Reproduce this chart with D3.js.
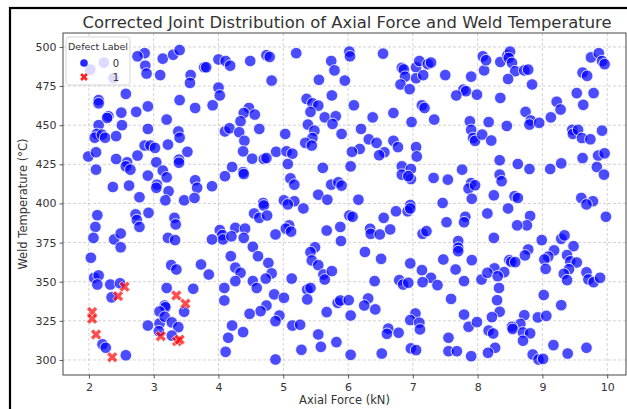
<!DOCTYPE html>
<html><head><meta charset="utf-8">
<script src="https://cdn.jsdelivr.net/npm/d3@7"></script>
<style>body{margin:0;background:#fff}svg{display:block;font-family:"DejaVu Sans",sans-serif}</style>
</head><body><svg id="c" width="627" height="409"></svg>
<script>
const title = "Corrected Joint Distribution of Axial Force and Weld Temperature";
const xLabel = "Axial Force (kN)";
const yLabel = "Weld Temperature (°C)";
const legendTitle = "Defect Label";
const labels = ["0", "1"];
const xTicks = [2,3,4,5,6,7,8,9,10];
const yTicks = [300,325,350,375,400,425,450,475,500];

// Defect 0 points: [axial force, weld temperature]
const defect0 = [
[2.86,496],[2.75,494],[2.23,490],[2.02,485.5],[2.38,480],[2.87,488],[2.89,483],[3.14,492.5],[3.30,495],[3.40,498],
[3.10,482],[3.57,482],[3.56,477],[3.78,487],[2.57,470],[2.15,466],[2.15,464],[2.91,462],[3.40,466],[3.64,461],
[2.30,455.7],[2.28,454.6],[2.50,458],[2.73,458.5],[3.20,453.6],[2.15,450],[2.51,450],[2.91,447.6],[2.12,444.4],[2.09,442],
[2.20,444],[2.25,442],[2.42,443],[3.38,446],[3.40,442],[2.86,437],[2.95,437],[3.02,435.5],[3.22,437.6],[3.52,433],
[1.99,430],[2.11,432.7],[2.42,428.4],[2.59,426.3],[2.57,423.7],[2.64,421.6],[2.75,430.6],[3.04,426.3],[3.39,428],[3.39,426],
[2.11,421.6],[3.14,421],[2.91,417.8],[3.20,416.7],[3.05,412],[3.04,410],[3.64,414.8],[3.67,410],[2.37,410.5],[2.62,411.4],
[3.23,407.8],[2.78,404],[3.18,402],[3.47,402],[3.63,403.5],
[3.81,487],[4.0,492],[4.11,491],[4.18,488],[4.49,491],[4.74,494.7],[4.79,493.6],[5.20,496],[4.82,478.5],[5.74,491],
[5.79,485],[5.55,479],[5.95,478.5],[4.0,474],[4.02,469],[3.91,462.7],[4.47,461],[4.39,457.8],[4.56,456.8],[4.34,452.5],
[5.36,466.8],[5.45,464],[5.54,462.5],[5.42,458.5],[5.75,469],[5.64,455],[5.81,455.7],[5.76,450.8],[5.38,450.4],[5.48,446.5],
[5.90,444.4],[5.45,441.8],[5.34,438.7],[5.44,437],[4.10,446],[4.17,448],[4.32,445.5],[4.63,447.6],[4.40,440],[5.03,444.4],
[4.38,433.3],[4.52,428.6],[4.70,428.4],[4.74,429],[4.89,433],[5.05,433.3],[5.14,431.8],[5.07,425.2],[4.21,423.3],[4.10,417.4],
[4.38,420],[4.39,418.8],[3.90,411],[5.11,416],[5.17,412],[5.61,422.7],[5.74,412],[5.85,413.5],[5.90,411.4],[5.54,405.6],
[5.68,402.4],[5.01,402],[5.17,401.4],[4.69,400.3],
[6.02,497],[6.03,494],[6.54,495.7],[6.83,486.6],[6.86,485.6],[6.88,481],[6.81,476],[6.95,473],[7.05,487],[7.10,491],
[7.05,480],[7.16,482],[7.23,489],[7.28,490],[7.50,482],[7.90,481],[8.08,494],[8.10,485],[7.78,472.7],[7.82,471.7],
[7.67,469],[7.99,469.5],[6.09,462.7],[6.38,455],[6.70,457.8],[7.14,462.7],[7.18,461],[6.98,452],[7.33,453.6],[6.20,447.6],
[6.32,441],[6.44,438.7],[6.70,440],[6.77,436],[7.05,436],[7.06,430],[6.56,432.7],[6.48,430.8],[6.18,434.8],[6.06,433],
[7.88,452.5],[7.90,447],[7.93,441.8],[7.96,440],[8.07,444],[6.04,423.7],[6.83,423.7],[6.83,418.4],[6.97,422],[6.97,415.6],
[6.93,417.4],[7.32,416.3],[7.54,415.2],[7.76,421.6],[7.90,413],[7.86,409.5],[7.96,411.6],[7.91,403],[6.16,402.4],[7.46,400.3],
[6.96,399],
[8.13,491.5],[8.35,490.4],[8.46,494.7],[8.50,497],[8.48,493],[8.53,489.8],[8.58,484.5],[8.47,479.5],[8.72,485],[8.78,485.5],
[8.84,476],[8.35,467.4],[8.74,458.5],[8.82,453],[8.80,450.4],[8.95,451.5],[8.45,449.5],[8.17,452],[8.21,440.2],[9.22,465],
[9.28,460],[9.13,455],[9.53,470.5],[9.63,463],[9.79,470.5],[9.62,483.6],[9.69,481.5],[9.75,493.3],[9.87,496],[9.92,491],
[9.96,489],[9.46,447],[9.47,444.4],[9.55,447],[9.61,441.8],[9.74,441],[9.92,446.5],[8.34,427.6],[8.62,425.2],[8.80,422],
[8.34,418.4],[8.37,414.2],[9.12,422],[9.29,425.6],[9.62,429],[9.86,430.6],[9.96,432],[9.84,423.3],[9.95,418.4],[8.25,405.2],
[8.57,404.6],[8.62,403.5],[9.60,403.5],[9.78,401.4],
[2.13,392.5],[2.10,385],[2.07,378],[2.39,377],[2.49,380.8],[2.49,372],[2.72,393],[2.74,389.4],[2.78,385],[2.92,394],
[3.32,390.8],[3.34,386.6],[3.22,378],[3.33,376.6],[2.03,365.3],[3.27,360.6],[3.35,357.8],[3.73,361],[2.08,352.5],[2.15,354],
[2.13,348.2],[2.33,348.2],[2.48,349],[2.35,340],[3.20,346],[3.61,345.5],[3.17,334.8],[3.18,333.7],[3.09,331],[3.47,330.8],
[3.09,323.3],[3.17,327.6],[3.28,324],[3.38,321],[2.91,322],[3.08,318.4],[3.28,315.6],[2.21,310],[2.26,307.8],[2.57,303],
[4.70,398.7],[5.07,399.4],[5.31,396.8],[4.55,393.6],[4.63,390.8],[4.75,392.3],[5.09,386],[5.04,383.9],[5.12,382],[4.88,380.2],
[4.26,384.4],[4.41,383.9],[4.02,383],[4.06,379.8],[4.07,377],[4.20,379],[3.90,377],[4.39,378],[5.67,382.7],[5.88,385],
[5.89,376],[4.53,372.3],[4.61,366.3],[4.19,366.3],[4.77,362],[4.82,355.3],[4.26,359],[4.34,355.7],[4.73,352],[4.53,350.4],
[4.59,346],[4.26,350.4],[4.09,346],[4.09,338],[3.85,354.6],[5.13,352],[5.49,372],[5.42,368.9],[5.44,363.6],[5.54,360.6],
[5.62,354.6],[5.64,351.4],[5.75,356.8],[5.37,345],[5.42,346],[5.37,338.7],[4.86,341.9],[5.01,339.7],[4.74,334.8],[4.65,331.2],
[4.48,329.5],[4.94,328.4],[4.88,324.8],[5.67,330.6],[5.84,336.5],[5.88,338],[4.21,322],[4.38,317.8],[4.15,314.2],[4.11,305.2],
[5.14,322],[5.26,322.5],[5.54,316.3],[5.58,308.4],[5.82,311.4],[5.28,306.5],[4.88,300.3],
[6.02,392.3],[6.07,391.5],[6.55,390.8],[6.74,395],[6.92,395],[6.96,396.8],[6.34,383.8],[6.35,380.6],[6.49,380.2],[6.65,383.4],
[7.52,388],[7.81,391.5],[7.79,388],[7.15,380.6],[7.21,382.3],[7.70,376],[7.70,371.7],[7.70,369.5],[7.91,363.8],[7.47,364.2],
[7.66,357.8],[6.26,369],[6.51,364.6],[6.96,361.7],[7.14,357.4],[7.28,352.5],[7.38,347.8],[7.15,349.7],[6.79,351],[6.85,348.2],
[6.93,349.3],[6.41,350.4],[7.79,350.4],[8.06,351.4],[6.01,338.2],[6.31,339.3],[6.25,334.8],[6.42,332.3],[6.04,328.4],[7.59,339],
[7.04,329.7],[6.96,325.5],[7.10,323.8],[7.11,319.5],[6.62,320],[6.60,316.7],[6.78,317.4],[7.79,329],[7.86,321.2],[7.99,324.2],
[7.55,314.2],[6.97,307.4],[7.05,306.3],[7.55,305.6],[7.68,305.6],[7.90,302.4],[6.52,304.1],[6.04,303.3],
[9.68,399.4],[8.15,393.6],[8.47,396.8],[8.81,392],[8.76,386],[8.61,386],[9.98,391.5],[8.25,378],[8.99,376.6],[9.29,377.4],
[9.34,379.6],[9.48,372.7],[8.78,370.6],[8.73,366.8],[8.49,363.8],[8.52,362.7],[8.58,362.5],[9.18,370],[9.09,366],[9.03,364.2],
[9.05,358.2],[9.38,367],[9.43,363],[9.53,362.3],[9.41,358],[9.33,355],[9.38,351],[9.68,356],[9.71,351.4],[9.79,349.7],
[9.89,352.5],[8.26,358.5],[8.41,356.1],[8.15,355.7],[8.31,353.5],[8.33,346],[8.30,338.2],[8.34,330.8],[8.22,327.4],[9.02,341.5],
[9.29,335],[8.72,328.6],[8.93,327.2],[9.06,328.2],[8.66,323],[8.53,321.2],[8.54,319.8],[8.70,317.6],[8.81,317],[8.70,312.3],
[8.17,318.8],[8.24,316.9],[8.27,307.8],[8.16,304.6],[8.85,303.5],[8.94,300.3],[9.01,300.7],[9.17,309.5],[9.39,304.1],[9.68,307.8]
];
// Defect 1 points
const defect1 = [
[2.55,346.8],[2.45,340.8],[2.05,330.6],[2.05,326.3],[2.11,316.3],[2.36,301.8],[3.35,341.2],[3.49,336],[3.11,315.2],[3.36,312],[3.40,313]
];

const svg = d3.select("#c");
const L = 63, R = 626, T = 33, B = 375;
const x = d3.scaleLinear().domain([1.6, 10.29]).range([L, R]);
const y = d3.scaleLinear().domain([290.4, 508.9]).range([B, T]);

// outer black frame
svg.append("rect").attr("x", 10).attr("y", 8).attr("width", 700).attr("height", 500)
  .attr("fill", "none").attr("stroke", "#000").attr("stroke-width", 2.2);

// grid
const g = svg.append("g");
g.selectAll(".gx").data(xTicks).join("line")
  .attr("x1", d => x(d)).attr("x2", d => x(d)).attr("y1", T).attr("y2", B)
  .attr("stroke", "#c8c8c8").attr("stroke-width", 0.8).attr("stroke-dasharray", "3,2");
g.selectAll(".gy").data(yTicks).join("line")
  .attr("x1", L).attr("x2", R).attr("y1", d => y(d)).attr("y2", d => y(d))
  .attr("stroke", "#c8c8c8").attr("stroke-width", 0.8).attr("stroke-dasharray", "3,2");

// axes
const xAxis = svg.append("g").attr("transform", `translate(0,${B})`)
  .call(d3.axisBottom(x).tickValues(xTicks).tickFormat(d3.format("d")).tickSize(3.5).tickSizeOuter(0));
const yAxis = svg.append("g").attr("transform", `translate(${L},0)`)
  .call(d3.axisLeft(y).tickValues(yTicks).tickFormat(d3.format("d")).tickSize(3.5).tickSizeOuter(0));
[xAxis, yAxis].forEach(a => {
  a.select(".domain").remove();
  a.selectAll("line").attr("stroke", "#333").attr("stroke-width", 0.8);
  a.selectAll("text").attr("fill", "#333").style("font-size", "11px").style("font-family", "DejaVu Sans");
});
xAxis.selectAll("text").attr("dy", "0.9em");

// frame (spines)
svg.append("rect").attr("x", L).attr("y", T).attr("width", R - L).attr("height", B - T)
  .attr("fill", "none").attr("stroke", "#333").attr("stroke-width", 0.9);

// points
svg.append("g").selectAll("circle").data(defect0).join("circle")
  .attr("cx", d => x(d[0])).attr("cy", d => y(d[1])).attr("r", 5.8)
  .attr("fill", "rgba(0,0,255,0.7)").attr("stroke", "#fff").attr("stroke-width", 0.8);
const xsym = d3.symbol().type(d3.symbolCross).size(75);
svg.append("g").selectAll("path").data(defect1).join("path")
  .attr("d", xsym)
  .attr("transform", d => `translate(${x(d[0])},${y(d[1])}) rotate(45)`)
  .attr("fill", "rgba(255,0,0,0.7)").attr("stroke", "#fff").attr("stroke-width", 0.6);

// legend
const lg = svg.append("g");
lg.append("rect").attr("x", 66).attr("y", 37).attr("width", 64).attr("height", 48).attr("rx", 3)
  .attr("fill", "rgba(255,255,255,0.8)").attr("stroke", "#ccc").attr("stroke-width", 0.8);
lg.append("text").attr("x", 98).attr("y", 50).attr("text-anchor", "middle")
  .attr("fill", "#333").style("font-size", "9.5px").text(legendTitle);
lg.append("circle").attr("cx", 84).attr("cy", 63).attr("r", 3.8).attr("fill", "rgba(0,0,255,0.85)");
lg.append("path").attr("d", d3.symbol().type(d3.symbolCross).size(38))
  .attr("transform", "translate(84,77) rotate(45)").attr("fill", "rgba(255,0,0,0.85)");
lg.selectAll(".lt").data(labels).join("text")
  .attr("x", 116).attr("y", (d, i) => 66.5 + i * 14).attr("text-anchor", "middle")
  .attr("fill", "#333").style("font-size", "10px").text(d => d);

// title and labels
svg.append("text").attr("x", 347).attr("y", 28).attr("text-anchor", "middle")
  .attr("fill", "#333").style("font-size", "16.4px").text(title);
svg.append("text").attr("x", (L + R) / 2).attr("y", 404).attr("text-anchor", "middle")
  .attr("fill", "#333").style("font-size", "11.5px").text(xLabel);
svg.append("text").attr("transform", `translate(27,${(T + B) / 2}) rotate(-90)`).attr("text-anchor", "middle")
  .attr("fill", "#333").style("font-size", "11.5px").text(yLabel);
</script></body></html>
